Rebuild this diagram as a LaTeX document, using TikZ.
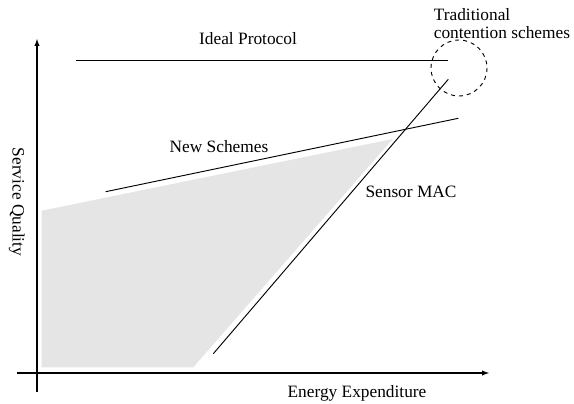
\documentclass[tikz,border=0pt]{standalone}
\usepackage{fontspec}
\setmainfont{Liberation Serif}
\usetikzlibrary{arrows}
\tikzstyle{axis} = [line width=0.8pt,->,>=latex]
\tikzstyle{curve} = [line width=0.7pt]
\tikzstyle{label} = [font=\fontsize{13}{14}\selectfont, inner sep=0pt]
\tikzstyle{region} = [fill=black!10, draw=none]

\begin{document}
\begin{tikzpicture}[x=0.75pt, y=-0.75pt]
\useasboundingbox (0,0) rectangle (574,403);

% Shaded region
\fill [region] (41.7,367.3) -- (41.7,210.7) -- (392.7,139) -- (193.3,367.3) -- cycle;

% Axes
\coordinate (X0) at (17,373);
\coordinate (X1) at (489,373);
\coordinate (Y0) at (37,392);
\coordinate (Y1) at (37,39);
\draw [axis] (X0) -- (X1);
\draw [axis] (Y0) -- (Y1);

% Curves
\coordinate (I0) at (76,60);
\coordinate (I1) at (448,60);
\coordinate (N0) at (105.7,191.7);
\coordinate (N1) at (458.3,118.3);
\coordinate (S0) at (213.3,353.7);
\coordinate (S1) at (448.3,79.3);
\draw [curve] (I0) -- (I1);
\draw [curve] (N0) -- (N1);
\draw [curve] (S0) -- (S1);

% Traditional schemes
\draw [dashed, line width=0.7pt] (459,68) circle (28);

% Labels
\node (LI) [label] at (248,39) {Ideal Protocol};
\node (LN) [label] at (219,147) {New Schemes};
\node (LS) [label] at (411,192) {Sensor MAC};
\node (LT) [label, align=left, anchor=north west] at (433.6,8) {Traditional\\contention schemes};
\node (LX) [label] at (357,393) {Energy Expenditure};
\node (LY) [label, rotate=-90] at (16.7,202) {Service Quality};

\end{tikzpicture}
\end{document}
